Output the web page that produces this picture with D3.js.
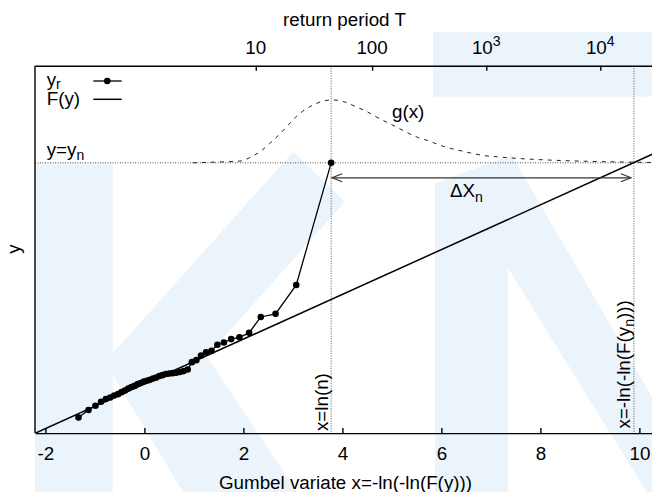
<!DOCTYPE html>
<html>
<head>
<meta charset="utf-8">
<script src="https://cdn.jsdelivr.net/npm/d3@7"></script>
<style>
  body { margin: 0; background: #fff; }
  svg { display: block; }
  text { font-family: "Liberation Sans", Arial, sans-serif; fill: #000; }
</style>
</head>
<body>
<div id="chart"></div>
<script>
// Gumbel plotting positions of the n = 43 records
const gumbelX = [-1.331, -1.129, -0.988, -0.875, -0.777, -0.689, -0.609, -0.533, -0.462, -0.393,
  -0.327, -0.262, -0.198, -0.135, -0.073, -0.012, 0.050, 0.112, 0.175, 0.238,
  0.302, 0.367, 0.433, 0.501, 0.570, 0.642, 0.717, 0.794, 0.875, 0.960,
  1.049, 1.144, 1.246, 1.356, 1.475, 1.606, 1.753, 1.920, 2.115, 2.351,
  2.650, 3.068, 3.773];
// sorted records y_r (units of the fitted F(y))
const yRecord = [-1.50, -1.17, -0.98, -0.80, -0.68, -0.61, -0.52, -0.46, -0.37, -0.30,
  -0.21, -0.14, -0.09, -0.01, 0.04, 0.10, 0.14, 0.18, 0.24, 0.28,
  0.35, 0.39, 0.44, 0.46, 0.48, 0.50, 0.53, 0.57, 0.64, 0.97,
  1.06, 1.27, 1.41, 1.48, 1.75, 1.85, 2.00, 2.08, 2.28, 2.99,
  3.13, 4.42, 9.88];
// fitted F(y): straight line on Gumbel paper
const fitX = [-2.21, 10.3];
const fitY = [-2.21, 10.3];
// density g(x), drawn on top of the line y = y_n
const gX = [0.98, 1.42, 1.93, 2.16, 2.36, 2.53, 2.70, 2.87, 3.03, 3.20, 3.40, 3.61, 3.81,
  4.08, 4.28, 4.48, 4.68, 4.88, 5.12, 5.32, 5.52, 5.76, 5.96, 6.19, 6.43, 6.66,
  6.90, 7.13, 7.57, 8.18, 8.78, 9.39, 9.99, 10.3];
const gVal = [0.000, 0.004, 0.010, 0.035, 0.070, 0.113, 0.158, 0.209, 0.260, 0.302, 0.337, 0.361, 0.368,
  0.353, 0.327, 0.302, 0.269, 0.240, 0.205, 0.175, 0.149, 0.127, 0.104, 0.084, 0.068, 0.053,
  0.041, 0.035, 0.025, 0.016, 0.010, 0.006, 0.003, 0.002];
const yN = 9.88;      // largest record
const lnN = 3.773;    // x = ln(n)
const xN = 9.89;      // x = -ln(-ln(F(y_n)))
const xTicks = [-2, 0, 2, 4, 6, 8, 10];
const returnPeriods = [10, 100, 1000, 10000];
const periodLabels = [['10', ''], ['100', ''], ['10', '3'], ['10', '4']];

// background watermark (page decoration, pixel coords)
const watermark = [
  [[35, 163], [112.7, 163], [112.7, 492], [35, 492]],
  [[112.7, 353.3], [293.3, 151.7], [345, 201.7], [207, 356], [297, 492], [183, 492], [112.7, 375]],
  [[433, 31.7], [652, 31.7], [652, 96.7], [433, 96.7]],
  [[435, 183.3], [511.7, 155], [652, 396.7], [652, 492], [646.7, 492], [508, 268.3], [508, 492], [435, 492]]
];

const W = 652, H = 492;
const margin = {top: 65.7, left: 35, right: 0, bottom: 58.9};
const width = W - margin.left - margin.right;
const height = H - margin.top - margin.bottom;
const fs = 18.8;

const svg = d3.select('#chart').append('svg')
  .attr('width', W)
  .attr('height', H);

svg.append('g').selectAll('polygon')
  .data(watermark)
  .enter()
  .append('polygon')
  .attr('points', d => d.map(p => p.join(',')).join(' '))
  .attr('fill', '#ecf4fb');

const g = svg.append('g')
  .attr('transform', `translate(${margin.left},${margin.top})`);

const x = d3.scaleLinear().domain([-2.21, 10.255]).range([0, width]);
const y = d3.scaleLinear().domain([-2.2, 14.22]).range([height, 0]);
const gHeight = 7.64; // y units per unit of density

g.append('clipPath').attr('id', 'plot-clip')
  .append('rect').attr('x', 0).attr('y', 0).attr('width', width).attr('height', height);

const plot = g.append('g').attr('clip-path', 'url(#plot-clip)');

// dotted guide lines
plot.append('line')
  .attr('x1', 0).attr('x2', width)
  .attr('y1', y(yN)).attr('y2', y(yN))
  .attr('stroke', '#555').attr('stroke-width', 1).attr('stroke-dasharray', '1,1.5');
[lnN, xN].forEach(v => {
  plot.append('line')
    .attr('x1', x(v)).attr('x2', x(v))
    .attr('y1', 0).attr('y2', height)
    .attr('stroke', '#555').attr('stroke-width', 1).attr('stroke-dasharray', '1,1.5');
});

// g(x)
const gLine = d3.line()
  .x(d => x(d[0]))
  .y(d => y(yN + gHeight * d[1]))
  .curve(d3.curveMonotoneX);
plot.append('path')
  .datum(gX.map((v, i) => [v, gVal[i]]))
  .attr('fill', 'none')
  .attr('stroke', '#222')
  .attr('stroke-width', 1)
  .attr('stroke-dasharray', '4,5')
  .attr('d', gLine);

// F(y)
const line = d3.line().x(d => x(d[0])).y(d => y(d[1]));
plot.append('path')
  .datum(fitX.map((v, i) => [v, fitY[i]]))
  .attr('fill', 'none')
  .attr('stroke', '#000')
  .attr('stroke-width', 1.5)
  .attr('d', line);

// y_r
const records = gumbelX.map((v, i) => [v, yRecord[i]]);
plot.append('path')
  .datum(records)
  .attr('fill', 'none')
  .attr('stroke', '#000')
  .attr('stroke-width', 1.3)
  .attr('d', line);
plot.selectAll('.pt')
  .data(records)
  .enter()
  .append('circle')
  .attr('class', 'pt')
  .attr('cx', d => x(d[0]))
  .attr('cy', d => y(d[1]))
  .attr('r', 3.3)
  .attr('fill', '#000');

// delta X_n arrow
const ay = y(yN) + 15;
const ax1 = x(lnN) + 1, ax2 = x(xN) - 3;
g.append('line')
  .attr('x1', ax1).attr('x2', ax2).attr('y1', ay).attr('y2', ay)
  .attr('stroke', '#333').attr('stroke-width', 1.2);
g.append('path')
  .attr('d', `M${ax1 + 10},${ay - 4}L${ax1},${ay}L${ax1 + 10},${ay + 4}M${ax2 - 10},${ay - 4}L${ax2},${ay}L${ax2 - 10},${ay + 4}`)
  .attr('fill', 'none').attr('stroke', '#333').attr('stroke-width', 1.2);

// annotations
const label = (parent, px, py, parts, anchor) => {
  const t = parent.append('text')
    .attr('x', px).attr('y', py)
    .style('font-size', fs + 'px')
    .attr('text-anchor', anchor || 'start');
  let shift = 0;
  parts.forEach(p => {
    const s = t.append('tspan').text(p[0]);
    const want = p[1] || 0;
    if (want !== shift) { s.attr('dy', want - shift); shift = want; }
    if (want !== 0) s.style('font-size', (fs * 0.75) + 'px');
  });
  return t;
};

label(g, 11.7, y(yN) - 7, [['y=y'], ['n', 4]]);
label(g, 357, y(yN) - 44.7, [['g(x)']]);
label(g, 415, ay + 19, [['ΔX'], ['n', 5]]);

label(g, 0, 0, [['x=ln(n)']])
  .attr('transform', `translate(${x(lnN) - 3.3},${height - 2}) rotate(-90)`);
label(g, 0, 0, [['x=-ln(-ln(F(y'], ['n', 4], [')))', 0]])
  .attr('transform', `translate(${x(xN) - 3.6},${height - 4.5}) rotate(-90)`);

// legend
const legend = g.append('g').attr('transform', 'translate(11.7,0)');
label(legend, 0, 20.3, [['y'], ['r', 3]]);
label(legend, 0, 39.8, [['F(y)']]);
legend.append('line').attr('x1', 46.6).attr('x2', 75).attr('y1', 15.3).attr('y2', 15.3)
  .attr('stroke', '#000').attr('stroke-width', 1.3);
legend.append('circle').attr('cx', 60.6).attr('cy', 15.3).attr('r', 3.3).attr('fill', '#000');
legend.append('line').attr('x1', 46.6).attr('x2', 75).attr('y1', 33.6).attr('y2', 33.6)
  .attr('stroke', '#000').attr('stroke-width', 1.5);

// axes
const xAxis = d3.axisBottom(x)
  .tickValues(xTicks)
  .tickSizeInner(-5)
  .tickSizeOuter(0)
  .tickFormat(d => String(d));
const bottom = g.append('g')
  .attr('transform', `translate(0,${height})`)
  .call(xAxis);
bottom.selectAll('text')
  .attr('y', 26.5).attr('dy', 0)
  .style('font-size', fs + 'px')
  .style('font-family', '"Liberation Sans", Arial, sans-serif');

const gumbelOfT = T => -Math.log(-Math.log(1 - 1 / T));
const topAxis = d3.axisTop(x)
  .tickValues(returnPeriods.map(gumbelOfT))
  .tickSizeInner(-5)
  .tickSizeOuter(0)
  .tickFormat('');
g.append('g').call(topAxis);
returnPeriods.forEach((T, i) => {
  const t = label(g, x(gumbelOfT(T)), -12.2, [[periodLabels[i][0]]], 'middle');
  if (periodLabels[i][1]) {
    t.append('tspan').attr('dy', -7.5).style('font-size', (fs * 0.75) + 'px').text(periodLabels[i][1]);
  }
});

g.selectAll('.domain, .tick line').attr('stroke', '#000').attr('stroke-width', 1.4);

g.append('line')
  .attr('x1', 0).attr('x2', 0).attr('y1', 0).attr('y2', height)
  .attr('stroke', '#000').attr('stroke-width', 1.4);

// axis titles
label(g, width / 2 + 1, -40.2, [['return period T']], 'middle');
label(g, width / 2 + 2, height + 55.5, [['Gumbel variate x=-ln(-ln(F(y)))']], 'middle');
label(g, 0, 0, [['y']], 'middle')
  .attr('transform', `translate(${19.5 - margin.left},${249 - margin.top}) rotate(-90)`);
</script>
</body>
</html>
